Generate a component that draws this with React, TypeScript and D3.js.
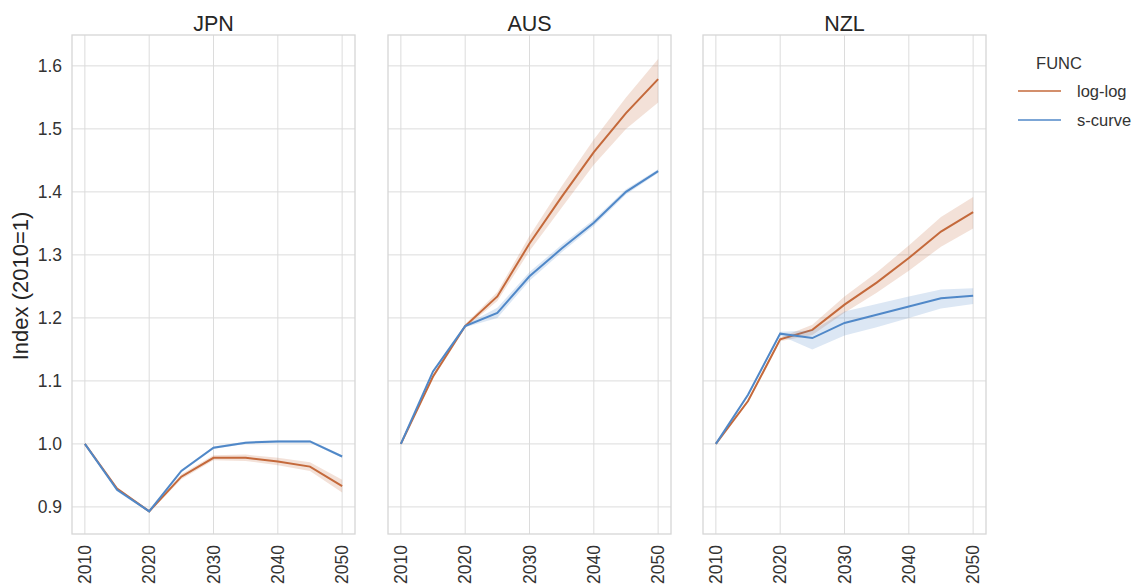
import React from "react";
import * as d3 from "d3";

const years = [2010, 2015, 2020, 2025, 2030, 2035, 2040, 2045, 2050];
const countries = ["JPN", "AUS", "NZL"];
const funcs = ["log-log", "s-curve"];
const yTicks = [0.9, 1.0, 1.1, 1.2, 1.3, 1.4, 1.5, 1.6];
const xTicks = [2010, 2020, 2030, 2040, 2050];

// JPN
const jpnLog = [1.0, 0.929, 0.893, 0.948, 0.978, 0.978, 0.972, 0.964, 0.933];
const jpnLogLo = [1.0, 0.927, 0.891, 0.944, 0.974, 0.973, 0.966, 0.957, 0.923];
const jpnLogHi = [1.0, 0.931, 0.895, 0.952, 0.982, 0.983, 0.978, 0.971, 0.943];
const jpnS = [1.0, 0.927, 0.893, 0.957, 0.994, 1.002, 1.004, 1.004, 0.98];
const jpnSLo = [1.0, 0.925, 0.891, 0.955, 0.992, 1.0, 1.002, 1.002, 0.978];
const jpnSHi = [1.0, 0.929, 0.895, 0.959, 0.996, 1.004, 1.006, 1.006, 0.982];
// AUS
const ausLog = [1.0, 1.107, 1.187, 1.234, 1.318, 1.392, 1.463, 1.525, 1.579];
const ausLogLo = [1.0, 1.104, 1.184, 1.227, 1.306, 1.375, 1.443, 1.5, 1.542];
const ausLogHi = [1.0, 1.11, 1.19, 1.241, 1.33, 1.409, 1.483, 1.55, 1.611];
const ausS = [1.0, 1.115, 1.187, 1.208, 1.266, 1.31, 1.351, 1.4, 1.433];
const ausSLo = [1.0, 1.113, 1.185, 1.2, 1.259, 1.304, 1.346, 1.396, 1.43];
const ausSHi = [1.0, 1.117, 1.189, 1.216, 1.273, 1.316, 1.356, 1.404, 1.436];
// NZL
const nzlLog = [1.0, 1.068, 1.166, 1.181, 1.221, 1.256, 1.295, 1.337, 1.368];
const nzlLogLo = [1.0, 1.066, 1.163, 1.173, 1.208, 1.24, 1.275, 1.313, 1.342];
const nzlLogHi = [1.0, 1.07, 1.169, 1.189, 1.234, 1.272, 1.315, 1.36, 1.392];
const nzlS = [1.0, 1.078, 1.175, 1.168, 1.192, 1.205, 1.218, 1.231, 1.235];
const nzlSLo = [1.0, 1.076, 1.172, 1.15, 1.172, 1.185, 1.2, 1.215, 1.222];
const nzlSHi = [1.0, 1.08, 1.178, 1.18, 1.21, 1.222, 1.234, 1.245, 1.247];

const series: Record<string, { mean: number[]; lo: number[]; hi: number[] }[]> = {
  JPN: [
    { mean: jpnLog, lo: jpnLogLo, hi: jpnLogHi },
    { mean: jpnS, lo: jpnSLo, hi: jpnSHi },
  ],
  AUS: [
    { mean: ausLog, lo: ausLogLo, hi: ausLogHi },
    { mean: ausS, lo: ausSLo, hi: ausSHi },
  ],
  NZL: [
    { mean: nzlLog, lo: nzlLogLo, hi: nzlLogHi },
    { mean: nzlS, lo: nzlSLo, hi: nzlSHi },
  ],
};

const colors = ["#c4693b", "#5088c8"];
const font = "'Liberation Sans', Arial, sans-serif";
const panelX = [72, 388, 703];
const panelW = 283;
const top = 35;
const bottom = 534;

export default function App() {
  const y = d3.scaleLinear().domain([0.857, 1.649]).range([bottom, top]);
  return (
    <svg
      width={1136}
      height={588}
      style={{ position: "absolute", left: 0, top: 0, background: "#fff" }}
      fontFamily={font}
    >
      {countries.map((c, ci) => {
        const x = d3
          .scaleLinear()
          .domain([2008, 2052])
          .range([panelX[ci], panelX[ci] + panelW]);
        return (
          <g key={c}>
            {yTicks.map((t) => (
              <line
                key={"gy" + t}
                x1={panelX[ci]}
                x2={panelX[ci] + panelW}
                y1={y(t)}
                y2={y(t)}
                stroke="#dcdcdc"
                strokeWidth={1}
              />
            ))}
            {xTicks.map((t) => (
              <line
                key={"gx" + t}
                x1={x(t)}
                x2={x(t)}
                y1={top}
                y2={bottom}
                stroke="#dcdcdc"
                strokeWidth={1}
              />
            ))}
            <rect
              x={panelX[ci]}
              y={top}
              width={panelW}
              height={bottom - top}
              fill="none"
              stroke="#d6d6d6"
              strokeWidth={1.3}
            />
            {series[c].map((s, si) => {
              const area = d3
                .area<number>()
                .x((_, i) => x(years[i]))
                .y0((_, i) => y(s.lo[i]))
                .y1((_, i) => y(s.hi[i]));
              const line = d3
                .line<number>()
                .x((_, i) => x(years[i]))
                .y((d) => y(d));
              return (
                <g key={si}>
                  <path d={area(s.mean) || ""} fill={colors[si]} fillOpacity={0.2} />
                  <path d={line(s.mean) || ""} fill="none" stroke={colors[si]} strokeWidth={2} />
                </g>
              );
            })}
            <text
              x={panelX[ci] + panelW / 2}
              y={31}
              textAnchor="middle"
              fontSize={21.5}
              fill="#262626"
            >
              {c}
            </text>
            {xTicks.map((t) => (
              <text
                key={"xl" + t}
                transform={`translate(${x(t)},${bottom + 11}) rotate(-90)`}
                textAnchor="end"
                dominantBaseline="central"
                fontSize={17.5}
                fill="#333"
              >
                {t}
              </text>
            ))}
            {ci === 0 &&
              yTicks.map((t) => (
                <text
                  key={"yl" + t}
                  x={62}
                  y={y(t) + 6}
                  textAnchor="end"
                  fontSize={17.5}
                  fill="#333"
                >
                  {t.toFixed(1)}
                </text>
              ))}
          </g>
        );
      })}
      <text
        transform={`translate(28,286) rotate(-90)`}
        textAnchor="middle"
        fontSize={22}
        fill="#262626"
      >
        Index (2010=1)
      </text>
      <text x={1059} y={69} textAnchor="middle" fontSize={16.5} fill="#333">
        FUNC
      </text>
      {funcs.map((f, i) => (
        <g key={f}>
          <line
            x1={1018}
            x2={1061}
            y1={91 + i * 29}
            y2={91 + i * 29}
            stroke={colors[i]}
            strokeOpacity={0.75}
            strokeWidth={1.8}
          />
          <text x={1077} y={91 + i * 29 + 6} fontSize={16.5} fill="#333">
            {f}
          </text>
        </g>
      ))}
    </svg>
  );
}
